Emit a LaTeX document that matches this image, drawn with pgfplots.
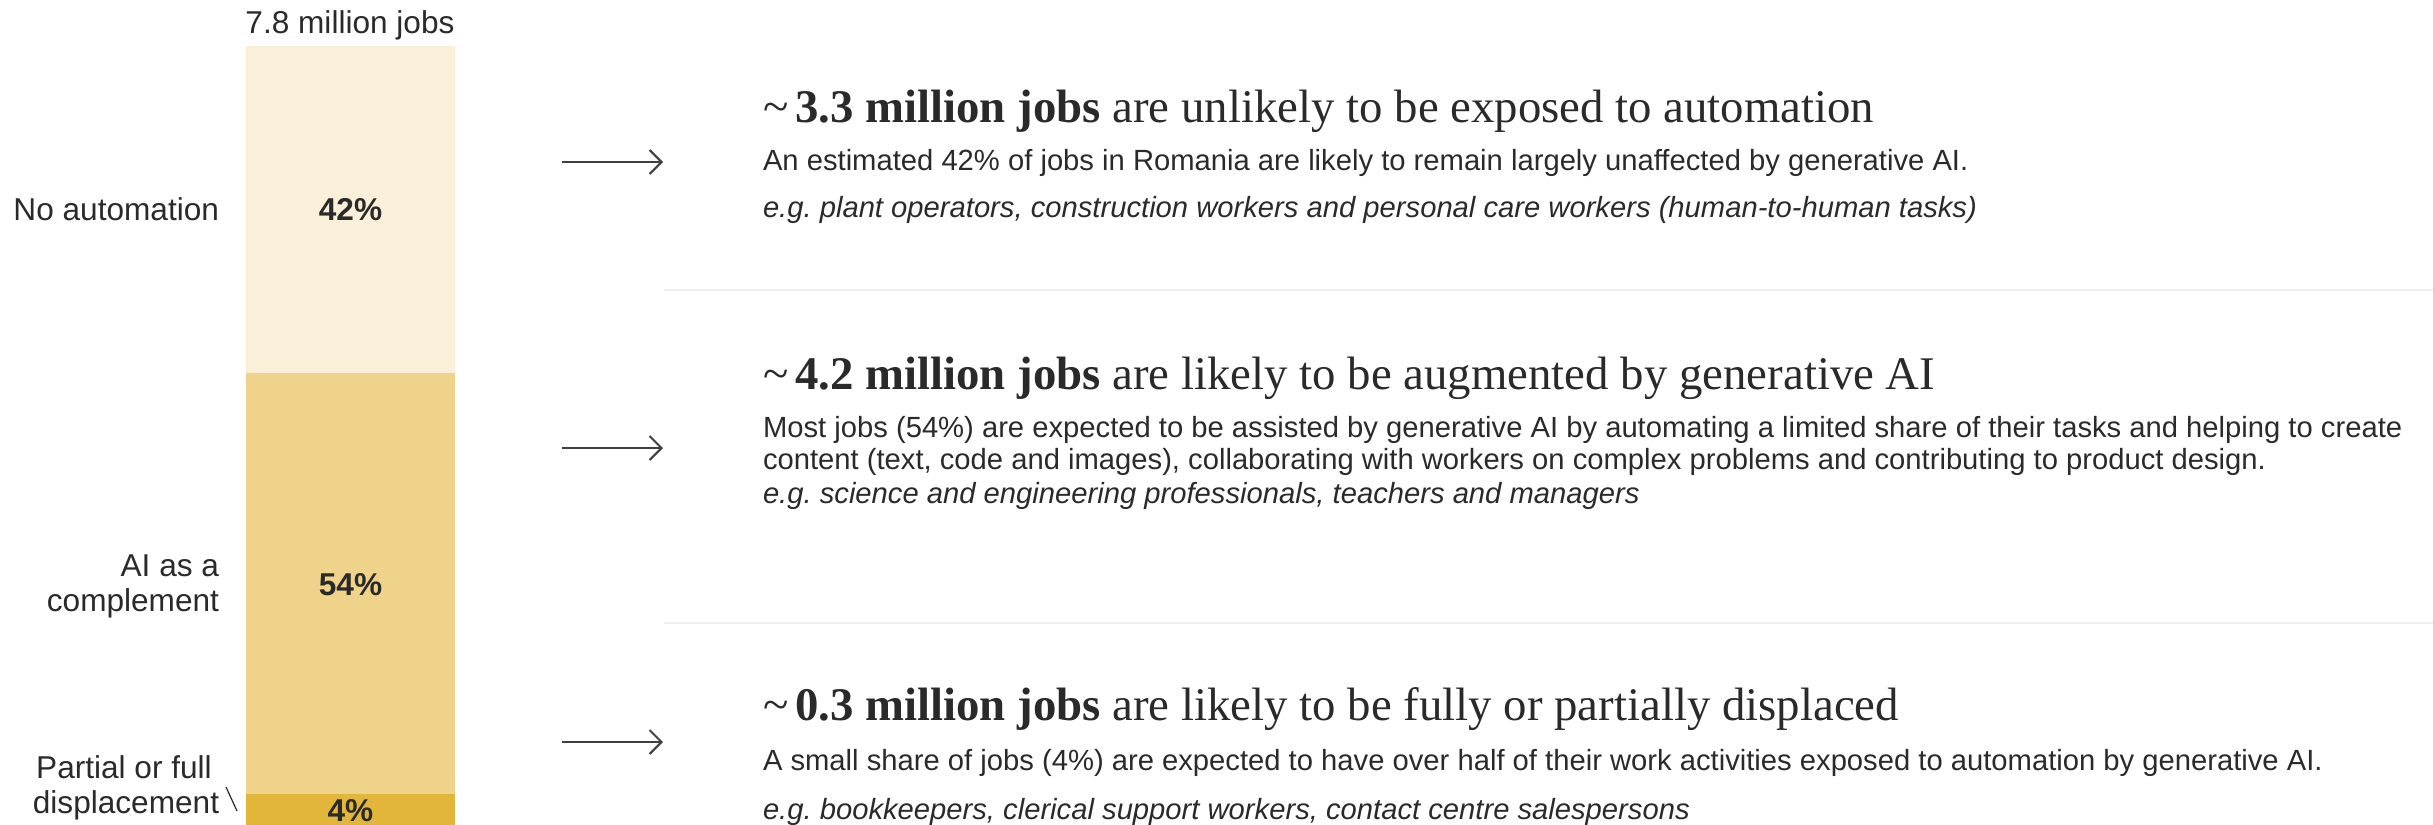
\documentclass[border=0pt]{standalone}
\usepackage{pgfplots}
\pgfplotsset{compat=1.18}
\usepackage{fontspec}
\setmainfont{Liberation Sans}
\newfontfamily\seriffont{Liberation Serif}
\usetikzlibrary{arrows.meta}
\definecolor{lightY}{HTML}{FAF0DA}
\definecolor{midY}{HTML}{EFD38B}
\definecolor{darkY}{HTML}{E2B53B}
\definecolor{txt}{HTML}{2A2A2A}
\definecolor{sep}{HTML}{EEEEEE}
\newcommand{\lab}{\fontsize{7.9pt}{9.5pt}\selectfont}
\newcommand{\body}{\fontsize{7.3pt}{8.8pt}\selectfont}
\newcommand{\head}{\seriffont\fontsize{11.7pt}{13pt}\selectfont}
\newcommand{\tl}{\textasciitilde\hspace{0.15em}}
\frenchspacing
\begin{document}
\frenchspacing
\begin{tikzpicture}[x=0.25pt,y=-0.25pt,every node/.style={inner sep=0pt,outer sep=0pt,text=txt}]
\useasboundingbox (0,0) rectangle (2433,825);
\coordinate (barSW) at (246,825);
\begin{axis}[at={(barSW)},anchor=south west,scale only axis,width=52.25pt,height=194.75pt,
  xmin=-0.5,xmax=0.5,ymin=0,ymax=100,hide axis,ybar stacked,bar width=52.25pt,clip=false]
\addplot[fill=darkY,draw=none] coordinates {(0,4)};
\addplot[fill=midY,draw=none] coordinates {(0,54)};
\addplot[fill=lightY,draw=none] coordinates {(0,42)};
\end{axis}
% value labels on the bar
\node[font=\lab\bfseries] at (350.5,210) {42\%};
\node[font=\lab\bfseries] at (350.5,585) {54\%};
\node[font=\lab\bfseries] at (350.5,811) {4\%};
% labels left
\node[anchor=base,font=\lab] at (350,33) {7.8 million jobs};
\node[anchor=base east,font=\lab] at (219,220) {No automation};
\node[anchor=base east,font=\lab] at (219,576) {AI as a};
\node[anchor=base east,font=\lab] at (219,611) {complement};
\node[anchor=base,font=\lab] at (124,778) {Partial or full};
\node[anchor=base,font=\lab] at (126,813) {displacement};
\draw[txt,line width=0.3pt] (226,787) -- (237,811);
% arrows
\foreach \yy in {162,448,742}{
  \draw[txt!90,line width=0.55pt,-{Straight Barb[length=3pt,width=6pt,line width=0.5pt]}] (562,\yy) -- (663,\yy);
}
% separators
\draw[sep,line width=0.5pt] (664,290) -- (2433,290);
\draw[sep,line width=0.5pt] (664,623) -- (2433,623);
% section 1
\node[anchor=base west,font=\head] at (763,122) {\tl\textbf{3.3 million jobs} are unlikely to be exposed to automation};
\node[anchor=base west,font=\body] at (763,170) {An estimated 42\% of jobs in Romania are likely to remain largely unaffected by generative AI.};
\node[anchor=base west,font=\body\itshape] at (763,217) {e.g.\ plant operators, construction workers and personal care workers (human-to-human tasks)};
% section 2
\node[anchor=base west,font=\head] at (763,389) {\tl\textbf{4.2 million jobs} are likely to be augmented by generative AI};
\node[anchor=base west,font=\body] at (763,437) {Most jobs (54\%) are expected to be assisted by generative AI by automating a limited share of their tasks and helping to create};
\node[anchor=base west,font=\body] at (763,469) {content (text, code and images), collaborating with workers on complex problems and contributing to product design.};
\node[anchor=base west,font=\body\itshape] at (763,503) {e.g.\ science and engineering professionals, teachers and managers};
% section 3
\node[anchor=base west,font=\head] at (763,720) {\tl\textbf{0.3 million jobs} are likely to be fully or partially displaced};
\node[anchor=base west,font=\body] at (763,770) {A small share of jobs (4\%) are expected to have over half of their work activities exposed to automation by generative AI.};
\node[anchor=base west,font=\body\itshape] at (763,819) {e.g.\ bookkeepers, clerical support workers, contact centre salespersons};
\end{tikzpicture}
\end{document}
